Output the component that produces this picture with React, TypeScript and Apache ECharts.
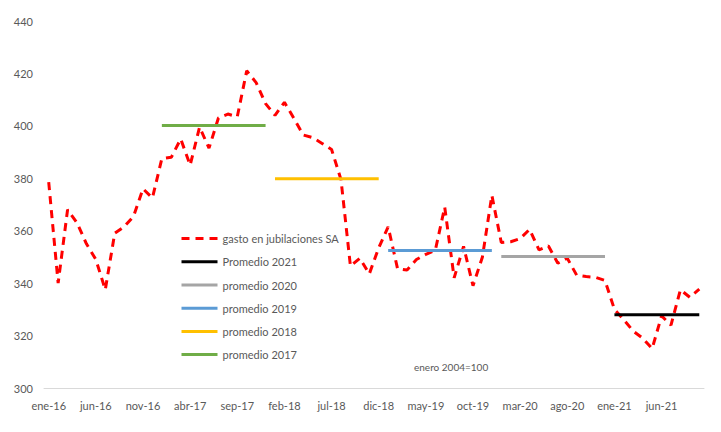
import React, { useEffect, useRef } from "react";
import * as echarts from "echarts";

const monthNames = ["ene", "feb", "mar", "abr", "may", "jun", "jul", "ago", "sep", "oct", "nov", "dic"];
const startYear = 2016;
const monthCount = 70;
const categories: string[] = [];
for (let i = 0; i < monthCount; i++) {
  const y = startYear + Math.floor(i / 12);
  categories.push(`${monthNames[i % 12]}-${String(y).slice(2)}`);
}

const gasto = [
  378.5, 340, 368, 363, 355, 349, 337.5, 359, 361.5, 365.5, 376, 372.5,
  387.5, 388, 395, 385, 399.5, 391.5, 403, 404.5, 403.5, 421, 416.5, 408.5,
  404, 409, 402.9, 396.5, 395.5, 393.3, 391, 379.5, 346.5, 349.5, 343.5, 353.5,
  361.5, 345.5, 345, 349, 351, 352.5, 369, 342, 354, 339, 350, 373.5,
  355.5, 355.8, 357, 360.5, 352.7, 354.2, 347.6, 349.5, 343, 342.5, 342.2, 341,
  330, 326, 321.7, 319, 315, 327.5, 324, 337.5, 334.6, 337.7,
];

const avgNames = ["Promedio 2021", "promedio 2020", "promedio 2019", "promedio 2018", "promedio 2017"];
const avgValues = [327.9, 350.2, 352.5, 379.8, 400.1];
const avgStart = [60, 48, 36, 24, 12];
const avgEnd = [69, 59, 47, 35, 23];
const avgColors = ["#000000", "#A5A5A5", "#5B9BD5", "#FFC000", "#70AD47"];

const yTicks = { min: 300, max: 440, interval: 20 };

export default function App() {
  const ref = useRef<HTMLDivElement>(null);
  useEffect(() => {
    if (!ref.current) return;
    const chart = echarts.init(ref.current, null, { renderer: "svg" });
    const font = "Lato";
    const avgSeries = avgNames.map((name, k) => ({
      name,
      type: "line",
      data: categories.map((_, i) => (i >= avgStart[k] && i <= avgEnd[k] ? avgValues[k] : null)),
      symbol: "none",
      lineStyle: { color: avgColors[k], width: 3 },
      itemStyle: { color: avgColors[k], opacity: 0 },
      connectNulls: false,
    }));
    chart.setOption({
      animation: false,
      backgroundColor: "#ffffff",
      grid: { left: 44, right: 17, top: 21, bottom: 44, containLabel: false },
      legend: {
        orient: "vertical",
        left: 175,
        top: 228,
        itemWidth: 36,
        itemHeight: 14,
        itemGap: 12,
        itemStyle: { opacity: 0 },
        lineStyle: { width: 3 },
        textStyle: { color: "#595959", fontSize: 11, fontFamily: font },
        data: ["gasto en jubilaciones SA", ...avgNames],
      },
      xAxis: {
        type: "category",
        data: categories,
        boundaryGap: true,
        axisLine: { lineStyle: { color: "#D9D9D9", width: 1 } },
        axisTick: { show: false },
        axisLabel: { interval: 4, color: "#595959", fontSize: 11, fontFamily: font, margin: 12 },
      },
      yAxis: {
        type: "value",
        min: yTicks.min,
        max: yTicks.max,
        interval: yTicks.interval,
        axisLine: { show: false },
        axisTick: { show: false },
        splitLine: { show: false },
        axisLabel: { color: "#595959", fontSize: 11, fontFamily: font, margin: 11 },
      },
      graphic: [
        {
          type: "text",
          left: 414,
          top: 362,
          style: { text: "enero 2004=100", fill: "#595959", fontSize: 10, fontFamily: font },
        },
      ],
      series: [
        {
          name: "gasto en jubilaciones SA",
          type: "line",
          data: gasto,
          symbol: "none",
          lineStyle: { color: "#FF0000", width: 3, type: [8, 6] },
          itemStyle: { color: "#FF0000", opacity: 0 },
        },
        ...avgSeries,
      ],
    });
    return () => chart.dispose();
  }, []);
  return <div ref={ref} style={{ width: 721, height: 432, margin: -8 }} />;
}
